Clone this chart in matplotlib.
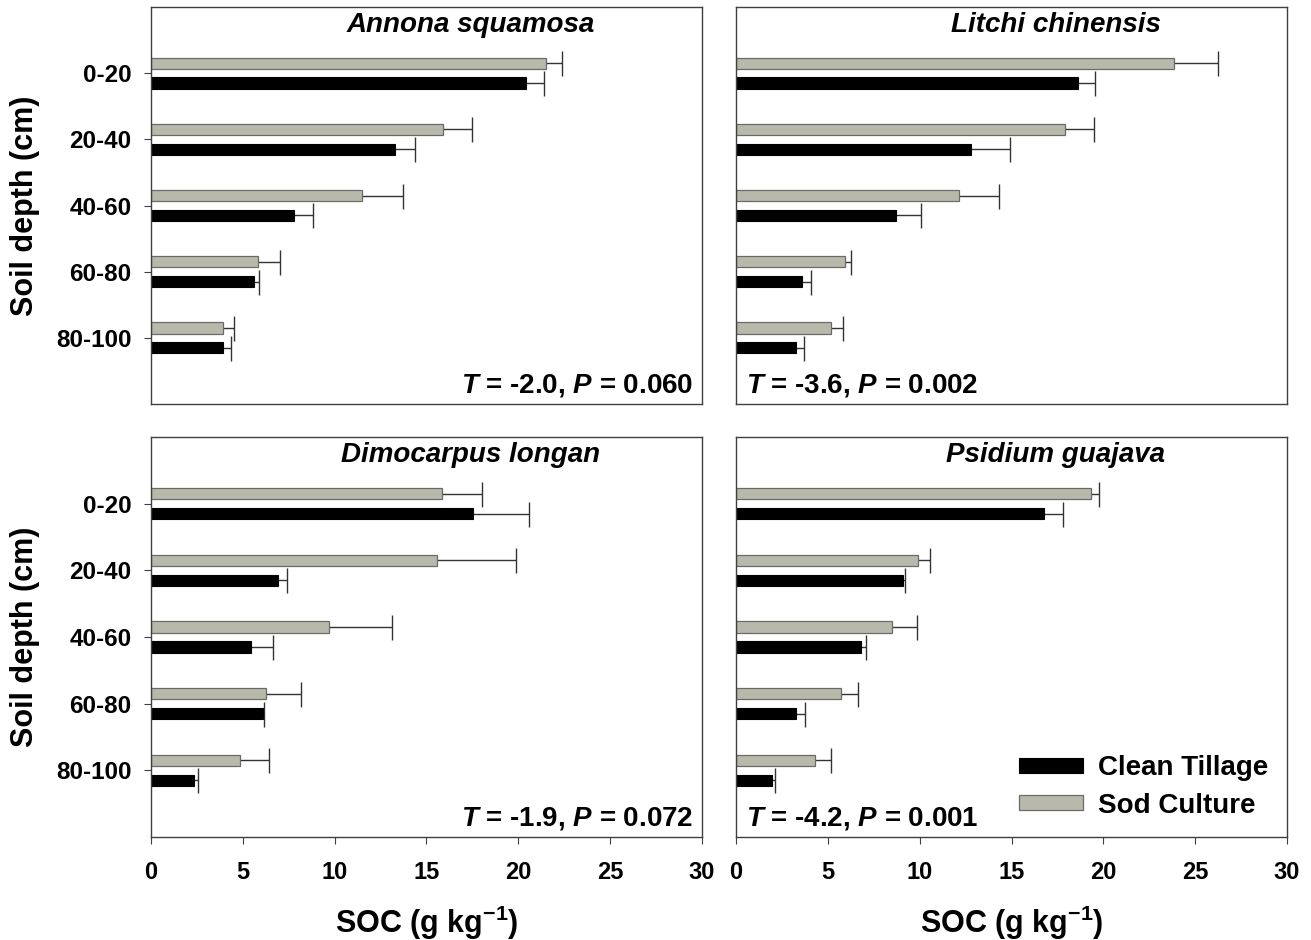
import numpy as np
import matplotlib.pyplot as plt

plt.rcParams['font.family'] = ['Liberation Sans', 'DejaVu Sans']
plt.rcParams['font.weight'] = 'bold'
plt.rcParams['mathtext.fontset'] = 'custom'
plt.rcParams['mathtext.rm'] = 'Liberation Sans:bold'
plt.rcParams['mathtext.it'] = 'Liberation Sans:bold:italic'
plt.rcParams['mathtext.bf'] = 'Liberation Sans:bold'
plt.rcParams['mathtext.default'] = 'rm'

# soil depth classes
depths = ['0-20', '20-40', '40-60', '60-80', '80-100']

# SOC means and errors (g kg-1)
annona_clean = [20.4, 13.3, 7.8, 5.6, 3.9]
annona_clean_err = [1.0, 1.05, 1.0, 0.3, 0.45]
annona_sod = [21.5, 15.9, 11.5, 5.85, 3.9]
annona_sod_err = [0.9, 1.6, 2.2, 1.15, 0.6]

litchi_clean = [18.6, 12.8, 8.7, 3.6, 3.25]
litchi_clean_err = [0.95, 2.1, 1.35, 0.5, 0.45]
litchi_sod = [23.85, 17.9, 12.15, 5.95, 5.15]
litchi_sod_err = [2.4, 1.6, 2.15, 0.3, 0.65]

longan_clean = [17.55, 6.9, 5.45, 6.1, 2.35]
longan_clean_err = [3.05, 0.5, 1.2, 0.05, 0.2]
longan_sod = [15.85, 15.55, 9.7, 6.25, 4.85]
longan_sod_err = [2.15, 4.3, 3.4, 1.9, 1.55]

guava_clean = [16.75, 9.1, 6.8, 3.25, 1.95]
guava_clean_err = [1.05, 0.1, 0.3, 0.5, 0.15]
guava_sod = [19.35, 9.9, 8.5, 5.7, 4.3]
guava_sod_err = [0.4, 0.65, 1.35, 0.95, 0.85]

species = ['Annona squamosa', 'Litchi chinensis', 'Dimocarpus longan', 'Psidium guajava']
stats = ['$\\mathit{T}$ = -2.0, $\\mathit{P}$ = 0.060',
         '$\\mathit{T}$ = -3.6, $\\mathit{P}$ = 0.002',
         '$\\mathit{T}$ = -1.9, $\\mathit{P}$ = 0.072',
         '$\\mathit{T}$ = -4.2, $\\mathit{P}$ = 0.001']
panels = [(annona_clean, annona_clean_err, annona_sod, annona_sod_err),
          (litchi_clean, litchi_clean_err, litchi_sod, litchi_sod_err),
          (longan_clean, longan_clean_err, longan_sod, longan_sod_err),
          (guava_clean, guava_clean_err, guava_sod, guava_sod_err)]

W, H = 1311, 940
fig = plt.figure(figsize=(W / 100, H / 100), dpi=100)

# axes boxes in pixels: left, top, right, bottom
boxes = [(151, 7, 702, 404), (736, 7, 1287, 404),
         (151, 437, 702, 837), (736, 437, 1287, 837)]

gray = '#b9b9ab'
frame_col = '#404040'
y = np.arange(len(depths))

for i, (l, t, r, b) in enumerate(boxes):
    ax = fig.add_axes([l / W, 1 - b / H, (r - l) / W, (b - t) / H])
    clean, clean_err, sod, sod_err = panels[i]

    ax.barh(y + 0.15, clean, height=0.17, color='black', edgecolor='black',
            linewidth=0.8, label='Clean Tillage', zorder=2)
    ax.barh(y - 0.15, sod, height=0.17, color=gray, edgecolor='#6a6a6a',
            linewidth=0.9, label='Sod Culture', zorder=2)
    for yy, vals, errs in [(y + 0.15, clean, clean_err), (y - 0.15, sod, sod_err)]:
        eb = ax.errorbar(vals, yy, xerr=[np.zeros(len(errs)), errs], fmt='none',
                         ecolor='#333333', elinewidth=1.0, capsize=9, capthick=1.0,
                         zorder=1)
        eb[1][0].set_visible(False)

    ax.set_xlim(0, 30)
    ax.set_ylim(5, -1)
    for s in ax.spines.values():
        s.set_color(frame_col)
        s.set_linewidth(1.0)

    if i % 2 == 0:
        ax.set_yticks(y)
        ax.set_yticklabels(depths, fontsize=17.5, fontweight='bold')
        ax.tick_params(axis='y', length=5, width=0.8, color=frame_col, pad=9)
    else:
        ax.set_yticks([])

    if i >= 2:
        ax.set_xticks([0, 5, 10, 15, 20, 25, 30])
        ax.tick_params(axis='x', length=5, width=0.8, color=frame_col, pad=12,
                       labelsize=17)
        for lab in ax.get_xticklabels():
            lab.set_fontweight('bold')
    else:
        ax.set_xticks([])

    ax.text(0.58, 0.988, species[i], transform=ax.transAxes, ha='center', va='top',
            fontsize=20, fontweight='bold', fontstyle='italic')
    if i % 2 == 0:
        ax.text(0.984, 0.03, stats[i], transform=ax.transAxes, ha='right',
                va='baseline', fontsize=20)
    else:
        ax.text(0.018, 0.03, stats[i], transform=ax.transAxes, ha='left',
                va='baseline', fontsize=20)

    if i == 3:
        handles, labels = ax.get_legend_handles_labels()
        ax.legend(handles, labels, loc='center left', bbox_to_anchor=(0.514, 0.125),
                  frameon=False, fontsize=20, handlelength=2.3, handleheight=0.47,
                  handletextpad=0.55, labelspacing=0.4, borderpad=0,
                  borderaxespad=0)

# y labels
for yc in [(7 + 404) / 2, (437 + 837) / 2]:
    fig.text(25 / W, 1 - yc / H, 'Soil depth (cm)', rotation=90, ha='center',
             va='center', fontsize=22, fontweight='bold')

# x labels
for xc in [(151 + 702) / 2, (736 + 1287) / 2]:
    fig.text(xc / W, 1 - 933 / H, 'SOC (g kg$^{-1}$)', ha='center', va='baseline',
             fontsize=22, fontweight='bold')

fig.savefig('out.png', dpi=100)
